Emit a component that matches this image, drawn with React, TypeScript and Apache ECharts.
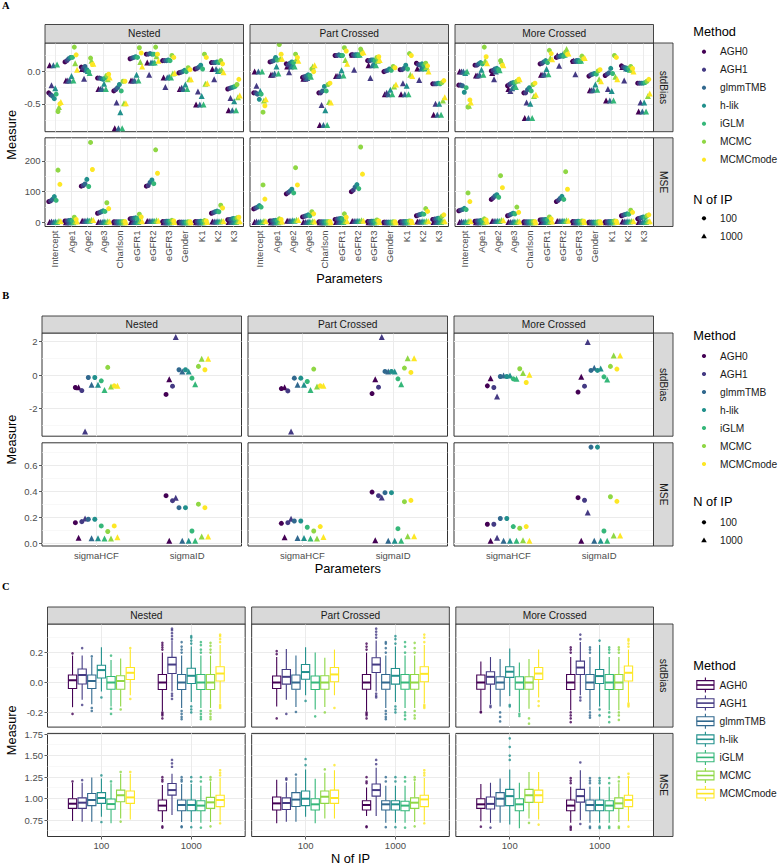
import React, { useEffect, useRef } from 'react';
import * as echarts from 'echarts';

// ---------------- categories / labels ----------------
const METHODS = ['AGH0', 'AGH1', 'glmmTMB', 'h-lik', 'iGLM', 'MCMC', 'MCMCmode'];
const COLORS = ['#440154', '#443A83', '#31688E', '#21908C', '#35B779', '#8FD744', '#FDE725'];
const STRUCTURES = ['Nested', 'Part Crossed', 'More Crossed'];
const MEASURES = ['stdBias', 'MSE'];
const N_OF_IP = ['100', '1000'];
const PARAMS_A = ['Intercept', 'Age1', 'Age2', 'Age3', 'Charlson', 'eGFR1', 'eGFR2', 'eGFR3', 'Gender', 'K1', 'K2', 'K3'];
const PARAMS_B = ['sigmaHCF', 'sigmaID'];

// ---------------- Panel A : [parameter][method] ----------------
const A_BIAS_NESTED_100 = [
  [-0.33, -0.36, -0.38, -0.42, -0.35, -0.62, -0.5],
  [0.15, 0.17, 0.2, 0.22, 0.22, 0.38, 0.26],
  [0.07, 0.05, 0.08, 0.03, 0.0, 0.21, 0.11],
  [-0.1, -0.1, -0.11, -0.12, -0.1, -0.06, -0.04],
  [-0.3, -0.28, -0.25, -0.2, -0.3, -0.15, -0.15],
  [0.2, 0.21, 0.22, 0.23, 0.22, 0.37, 0.29],
  [0.27, 0.27, 0.28, 0.27, 0.27, 0.38, 0.27],
  [0.17, 0.17, 0.17, 0.18, 0.17, 0.25, 0.22],
  [-0.02, -0.01, 0.0, 0.02, 0.0, 0.06, 0.03],
  [0.04, 0.05, 0.07, 0.1, 0.04, 0.27, 0.22],
  [0.14, 0.14, 0.14, 0.15, 0.14, 0.17, 0.12],
  [-0.27, -0.26, -0.25, -0.24, -0.23, -0.2, -0.12],
];
const A_BIAS_NESTED_1000 = [
  [0.1, -0.21, 0.1, -0.26, 0.11, -0.55, -0.47],
  [-0.14, -0.14, -0.14, -0.07, -0.14, 0.13, 0.03],
  [0.04, -0.11, 0.03, 0.01, -0.02, 0.17, 0.12],
  [-0.27, -0.27, -0.27, -0.19, -0.27, -0.12, -0.09],
  [-0.88, -0.48, -0.88, -0.63, -0.88, -0.49, -0.49],
  [-0.14, -0.14, -0.14, -0.05, -0.14, 0.15, 0.08],
  [0.14, -0.05, 0.14, 0.14, 0.14, 0.24, 0.17],
  [-0.09, -0.24, -0.09, -0.08, -0.09, -0.03, -0.02],
  [-0.27, -0.25, -0.27, -0.2, -0.27, -0.12, -0.12],
  [-0.51, -0.31, -0.51, -0.38, -0.51, -0.19, -0.18],
  [0.04, -0.12, 0.04, 0.01, 0.02, 0.03, -0.01],
  [-0.6, -0.41, -0.6, -0.46, -0.6, -0.4, -0.37],
];
const A_BIAS_PART_100 = [
  [-0.33, -0.33, -0.35, -0.43, -0.35, -0.63, -0.53],
  [0.15, 0.16, 0.17, 0.22, 0.18, 0.42, 0.27],
  [0.12, 0.1, 0.13, 0.15, 0.14, 0.27, 0.22],
  [-0.09, -0.08, -0.07, -0.05, -0.06, 0.04, 0.0],
  [-0.33, -0.33, -0.3, -0.23, -0.3, -0.2, -0.18],
  [0.25, 0.25, 0.26, 0.25, 0.25, 0.37, 0.32],
  [0.26, 0.26, 0.26, 0.26, 0.26, 0.35, 0.28],
  [0.17, 0.17, 0.18, 0.18, 0.17, 0.22, 0.23],
  [0.0, 0.01, 0.02, 0.04, 0.02, 0.08, 0.06],
  [0.03, 0.03, 0.05, 0.1, 0.04, 0.28, 0.25],
  [0.13, 0.11, 0.1, 0.12, 0.1, 0.13, 0.09],
  [-0.19, -0.19, -0.19, -0.18, -0.19, -0.17, -0.14],
];
const A_BIAS_PART_1000 = [
  [0.0, -0.22, 0.0, -0.3, 0.0, -0.45, -0.43],
  [-0.05, -0.05, -0.03, 0.08, -0.03, 0.2, 0.2],
  [0.08, -0.01, 0.08, 0.1, 0.08, 0.2, 0.17],
  [-0.11, -0.11, -0.1, -0.06, -0.08, 0.08, 0.1],
  [-0.83, -0.52, -0.83, -0.6, -0.83, -0.47, -0.48],
  [-0.07, -0.07, -0.06, 0.02, -0.06, 0.18, 0.12],
  [0.26, 0.03, 0.26, 0.26, 0.26, 0.34, 0.3],
  [0.1, -0.1, 0.1, 0.12, 0.1, 0.17, 0.18],
  [-0.35, -0.33, -0.35, -0.28, -0.35, -0.23, -0.2],
  [-0.35, -0.18, -0.35, -0.22, -0.35, -0.05, -0.07],
  [0.05, -0.13, 0.05, 0.06, 0.05, 0.07, 0.0],
  [-0.67, -0.5, -0.67, -0.5, -0.67, -0.45, -0.4],
];
const A_BIAS_MORE_100 = [
  [-0.21, -0.21, -0.22, -0.32, -0.25, -0.55, -0.44],
  [0.1, 0.1, 0.12, 0.14, 0.12, 0.38, 0.23],
  [0.01, 0.02, 0.04, 0.05, 0.03, 0.17, 0.1],
  [-0.22, -0.2, -0.18, -0.17, -0.17, -0.15, -0.12],
  [-0.33, -0.33, -0.28, -0.25, -0.3, -0.2, -0.18],
  [0.12, 0.13, 0.15, 0.17, 0.14, 0.33, 0.28],
  [0.22, 0.23, 0.24, 0.25, 0.24, 0.3, 0.27],
  [0.16, 0.16, 0.17, 0.17, 0.16, 0.24, 0.2],
  [-0.07, -0.05, -0.04, -0.03, -0.04, 0.01, 0.03],
  [-0.06, -0.04, -0.02, 0.05, -0.03, 0.25, 0.22],
  [0.09, 0.07, 0.06, 0.05, 0.05, 0.08, 0.05],
  [-0.18, -0.18, -0.18, -0.18, -0.17, -0.15, -0.12],
];
const A_BIAS_MORE_1000 = [
  [0.0, 0.0, 0.0, -0.02, 0.0, -0.53, -0.48],
  [-0.06, -0.06, -0.05, 0.03, -0.05, 0.17, 0.13],
  [-0.02, -0.12, 0.0, 0.03, 0.02, 0.16, 0.1],
  [-0.27, -0.3, -0.26, -0.22, -0.24, -0.14, -0.12],
  [-0.72, -0.48, -0.72, -0.5, -0.72, -0.38, -0.36],
  [-0.05, -0.05, -0.04, 0.04, -0.04, 0.21, 0.19],
  [0.25, 0.09, 0.25, 0.27, 0.26, 0.35, 0.28],
  [0.17, -0.04, 0.17, 0.17, 0.17, 0.22, 0.21],
  [-0.29, -0.29, -0.28, -0.2, -0.28, -0.12, -0.15],
  [-0.45, -0.27, -0.45, -0.3, -0.45, -0.08, -0.12],
  [0.07, -0.14, 0.05, 0.04, 0.03, 0.03, 0.0],
  [-0.62, -0.48, -0.62, -0.48, -0.62, -0.38, -0.34],
];
const A_MSE_NESTED_100 = [
  [68, 70, 75, 84, 72, 170, 124],
  [5, 5, 6, 7, 6, 17, 10],
  [118, 120, 125, 140, 117, 260, 172],
  [30, 32, 35, 38, 36, 64, 45],
  [2, 2, 2, 2, 2, 3, 3],
  [12, 13, 14, 15, 13, 27, 18],
  [118, 120, 130, 138, 126, 236, 160],
  [3, 3, 4, 4, 4, 7, 5],
  [1, 1, 1, 1, 1, 2, 2],
  [3, 3, 3, 4, 3, 6, 5],
  [30, 32, 35, 37, 35, 56, 47],
  [9, 10, 11, 13, 12, 15, 17],
];
const A_MSE_NESTED_1000 = [
  [2, 3, 2, 3, 2, 5, 4],
  [1, 1, 1, 2, 1, 4, 3],
  [6, 6, 6, 7, 6, 9, 8],
  [2, 2, 2, 3, 2, 4, 3],
  [1, 1, 1, 1, 1, 1, 1],
  [2, 2, 2, 3, 2, 5, 4],
  [5, 5, 5, 6, 5, 7, 6],
  [1, 1, 1, 1, 1, 2, 2],
  [0.5, 0.5, 0.5, 0.5, 0.5, 1, 1],
  [1, 1, 1, 1, 1, 2, 2],
  [3, 3, 3, 4, 3, 5, 4],
  [2, 2, 2, 3, 2, 4, 4],
];
const A_MSE_PART_100 = [
  [44, 47, 50, 55, 50, 122, 76],
  [5, 5, 6, 7, 6, 12, 10],
  [93, 97, 102, 108, 96, 178, 122],
  [18, 20, 22, 25, 22, 35, 28],
  [2, 2, 2, 2, 2, 3, 3],
  [10, 11, 12, 13, 12, 28, 17],
  [100, 105, 115, 123, 110, 245, 157],
  [3, 3, 4, 4, 4, 8, 5],
  [1, 1, 1, 1, 1, 2, 2],
  [2, 2, 3, 3, 3, 5, 4],
  [22, 24, 26, 28, 27, 45, 36],
  [10, 11, 12, 14, 13, 20, 25],
];
const A_MSE_PART_1000 = [
  [2, 3, 2, 3, 2, 5, 4],
  [1, 1, 1, 2, 1, 3, 3],
  [6, 6, 6, 7, 6, 9, 8],
  [2, 2, 2, 3, 2, 4, 3],
  [1, 1, 1, 1, 1, 1, 1],
  [2, 2, 2, 3, 2, 5, 4],
  [5, 5, 5, 6, 5, 7, 6],
  [1, 1, 1, 1, 1, 2, 2],
  [0.5, 0.5, 0.5, 0.5, 0.5, 1, 1],
  [1, 1, 1, 1, 1, 2, 2],
  [3, 3, 3, 4, 3, 5, 4],
  [2, 2, 2, 3, 2, 4, 4],
];
const A_MSE_MORE_100 = [
  [38, 40, 42, 46, 42, 96, 68],
  [4, 5, 5, 6, 5, 12, 8],
  [75, 80, 86, 90, 82, 152, 113],
  [22, 24, 27, 30, 28, 50, 33],
  [2, 2, 2, 2, 2, 3, 3],
  [8, 9, 9, 10, 9, 18, 12],
  [68, 72, 78, 85, 75, 165, 108],
  [3, 3, 3, 4, 3, 5, 4],
  [1, 1, 1, 1, 1, 2, 2],
  [2, 2, 3, 3, 3, 5, 4],
  [22, 24, 26, 28, 27, 40, 33],
  [12, 14, 16, 18, 16, 22, 25],
];
const A_MSE_MORE_1000 = [
  [2, 3, 2, 3, 2, 5, 4],
  [1, 1, 1, 2, 1, 3, 3],
  [5, 5, 5, 6, 5, 8, 7],
  [2, 2, 2, 3, 2, 4, 3],
  [1, 1, 1, 1, 1, 1, 1],
  [2, 2, 2, 3, 2, 4, 3],
  [5, 5, 5, 6, 5, 7, 6],
  [1, 1, 1, 1, 1, 2, 2],
  [0.5, 0.5, 0.5, 0.5, 0.5, 1, 1],
  [1, 1, 1, 1, 1, 2, 2],
  [3, 3, 3, 4, 3, 5, 4],
  [2, 2, 2, 3, 2, 4, 4],
];

// ---------------- Panel B : [parameter][method] ----------------
const B_BIAS_NESTED_100 = [[-0.74, -0.92, -0.14, -0.14, -0.34, 0.46, -0.64], [-1.15, -0.66, 0.32, 0.32, -0.18, 0.52, 0.32]];
const B_BIAS_NESTED_1000 = [[-0.72, -3.36, -0.58, -0.58, -0.88, -0.68, -0.64], [-0.24, 2.27, 0.22, 0.22, -0.54, 0.98, 0.98]];
const B_MSE_NESTED_100 = [[0.158, 0.166, 0.184, 0.184, 0.133, 0.09, 0.133], [0.365, 0.327, 0.273, 0.273, 0.094, 0.3, 0.273]];
const B_MSE_NESTED_1000 = [[0.043, 0.19, 0.038, 0.038, 0.036, 0.036, 0.046], [0.02, 0.35, 0.02, 0.02, 0.02, 0.051, 0.051]];
const B_BIAS_PART_100 = [[-0.8, -0.94, -0.18, -0.18, -0.38, 0.36, -0.64], [-1.1, -0.72, 0.22, 0.22, -0.22, 0.42, 0.16]];
const B_BIAS_PART_1000 = [[-0.72, -3.36, -0.58, -0.58, -0.88, -0.68, -0.64], [-0.24, 2.27, 0.22, 0.22, -0.54, 1.0, 1.0]];
const B_MSE_PART_100 = [[0.153, 0.158, 0.171, 0.171, 0.123, 0.094, 0.128], [0.393, 0.365, 0.388, 0.388, 0.112, 0.319, 0.329]];
const B_MSE_PART_1000 = [[0.046, 0.189, 0.041, 0.041, 0.036, 0.036, 0.049], [0.023, 0.352, 0.02, 0.02, 0.02, 0.054, 0.054]];
const B_BIAS_MORE_100 = [[-0.64, -0.74, -0.08, -0.08, -0.22, 0.38, -0.44], [-1.01, -0.66, 0.28, 0.28, -0.1, 0.52, 0.36]];
const B_BIAS_MORE_1000 = [[-0.18, -1.27, -0.02, -0.02, -0.22, 0.12, 0.02], [-0.1, 1.97, 0.44, 0.4, -0.26, 1.17, 1.17]];
const B_MSE_MORE_100 = [[0.146, 0.146, 0.19, 0.19, 0.128, 0.115, 0.128], [0.35, 0.33, 0.738, 0.738, 0.094, 0.357, 0.322]];
const B_MSE_MORE_1000 = [[0.02, 0.043, 0.02, 0.02, 0.02, 0.023, 0.02], [0.02, 0.237, 0.02, 0.02, 0.02, 0.059, 0.059]];

// ---------------- Panel C : box stats per method [lower whisker, Q1, median, Q3, upper whisker] ----------------
const C_BIAS_NESTED_100 = [
  [-0.165, -0.04, 0.015, 0.05, 0.18], [-0.115, -0.01, 0.05, 0.09, 0.18], [-0.145, -0.04, 0.01, 0.05, 0.165],
  [-0.06, 0.03, 0.083, 0.115, 0.235], [-0.16, -0.045, 0.0, 0.04, 0.15], [-0.16, -0.045, 0.01, 0.045, 0.16],
  [-0.085, 0.02, 0.065, 0.1, 0.22],
];
const C_BIAS_NESTED_100_OUT = [[0.195, -0.21], [0.23, -0.15], [0.175, -0.17, -0.19], [-0.1], [0.18, -0.175, -0.21], [-0.18], [0.23, -0.11]];
const C_BIAS_NESTED_1000 = [
  [-0.19, -0.047, 0.0, 0.054, 0.2], [-0.06, 0.06, 0.12, 0.168, 0.28], [-0.17, -0.047, 0.0, 0.054, 0.18],
  [-0.13, -0.007, 0.045, 0.095, 0.24], [-0.17, -0.047, 0.0, 0.054, 0.18], [-0.17, -0.047, 0.0, 0.054, 0.18],
  [-0.14, 0.01, 0.06, 0.105, 0.25],
];
const C_BIAS_NESTED_1000_OUT = [
  [0.22, 0.235, 0.25, 0.265, -0.2, -0.21, -0.22, -0.24], [0.29, 0.31, 0.33, 0.35, 0.36, -0.075, -0.09, -0.11],
  [0.2, 0.22, 0.24, 0.27, -0.19, -0.21, -0.23, -0.245], [0.26, 0.28, 0.3, 0.31, -0.16, -0.18, -0.2],
  [0.2, 0.22, 0.25, 0.27, -0.19, -0.21, -0.23, -0.245], [0.2, 0.22, 0.245, 0.265, -0.19, -0.21, -0.23, -0.245],
  [0.27, 0.29, 0.31, 0.32, -0.15, -0.16, -0.17],
];
const C_BIAS_PART_100 = [
  [-0.16, -0.04, 0.0, 0.043, 0.17], [-0.115, -0.011, 0.038, 0.087, 0.224], [-0.163, -0.045, 0.0, 0.05, 0.18],
  [-0.085, 0.022, 0.07, 0.12, 0.235], [-0.18, -0.047, 0.0, 0.043, 0.2], [-0.163, -0.045, 0.0, 0.045, 0.165],
  [-0.085, 0.005, 0.054, 0.1, 0.22],
];
const C_BIAS_PART_100_OUT = [[0.19, 0.21, -0.24], [-0.21], [-0.197], [-0.123], [-0.226], [-0.2], [-0.17]];
const C_BIAS_PART_1000 = [
  [-0.19, -0.045, 0.0, 0.054, 0.2], [-0.06, 0.067, 0.12, 0.165, 0.28], [-0.17, -0.045, 0.0, 0.054, 0.18],
  [-0.13, -0.011, 0.045, 0.094, 0.24], [-0.17, -0.045, 0.0, 0.054, 0.18], [-0.17, -0.045, 0.0, 0.054, 0.18],
  [-0.14, 0.005, 0.058, 0.105, 0.25],
];
const C_BIAS_PART_1000_OUT = [
  [0.22, 0.24, 0.26, -0.2, -0.21, -0.22, -0.24], [0.3, 0.32, 0.34, 0.36, -0.075, -0.09, -0.1],
  [0.2, 0.23, 0.26, 0.27, -0.19, -0.21, -0.23, -0.245], [0.26, 0.29, 0.31, -0.16, -0.18, -0.2],
  [0.2, 0.24, 0.27, -0.2, -0.22, -0.245], [0.2, 0.23, 0.265, -0.19, -0.22, -0.24],
  [0.27, 0.3, 0.32, -0.15, -0.16, -0.17],
];
const C_BIAS_MORE_100 = [
  [-0.186, -0.045, 0.0, 0.05, 0.14], [-0.145, -0.011, 0.038, 0.072, 0.17], [-0.16, -0.045, 0.0, 0.038, 0.157],
  [-0.09, 0.034, 0.072, 0.105, 0.228], [-0.197, -0.045, 0.0, 0.038, 0.134], [-0.175, -0.045, 0.0, 0.038, 0.157],
  [-0.1, 0.02, 0.06, 0.1, 0.22],
];
const C_BIAS_MORE_100_OUT = [[-0.195, -0.2], [-0.155, -0.165], [-0.2, -0.23, -0.26], [-0.15, -0.16], [-0.21, -0.224], [-0.24, -0.275], [-0.125, -0.156]];
const C_BIAS_MORE_1000 = [
  [-0.186, -0.047, 0.0, 0.054, 0.17], [-0.085, 0.054, 0.1, 0.143, 0.27], [-0.186, -0.047, 0.0, 0.054, 0.17],
  [-0.16, -0.007, 0.043, 0.087, 0.25], [-0.186, -0.047, 0.0, 0.054, 0.17], [-0.186, -0.047, 0.0, 0.054, 0.17],
  [-0.134, 0.01, 0.065, 0.11, 0.22],
];
const C_BIAS_MORE_1000_OUT = [
  [0.2, 0.22, 0.235, -0.2, -0.22, -0.24, -0.265], [0.29, 0.32, -0.1, -0.12],
  [0.2, 0.22, 0.235, -0.2, -0.22, -0.235], [0.28, -0.18, -0.22],
  [0.2, 0.22, 0.235, -0.2, -0.23, -0.265], [0.2, 0.22, 0.235, -0.2, -0.22, -0.25],
  [0.24, 0.26, 0.28, 0.29, -0.14, -0.15, -0.16],
];
const C_MSE_NESTED_100 = [
  [0.742, 0.888, 0.942, 1.0, 1.185], [0.734, 0.888, 0.954, 1.01, 1.185], [0.734, 0.92, 0.985, 1.06, 1.247],
  [0.79, 0.946, 1.008, 1.07, 1.235], [0.715, 0.877, 0.938, 0.996, 1.18], [0.77, 0.965, 1.04, 1.1, 1.29],
  [0.76, 0.946, 1.015, 1.09, 1.29],
];
const C_MSE_NESTED_100_OUT = [[1.2], [1.215], [], [1.27, 0.73], [1.2], [1.31, 0.735], [1.31]];
const C_MSE_NESTED_1000 = [
  [0.73, 0.861, 0.92, 0.985, 1.16], [0.81, 1.042, 1.1, 1.177, 1.29], [0.73, 0.861, 0.927, 0.985, 1.17],
  [0.73, 0.861, 0.927, 0.985, 1.17], [0.72, 0.861, 0.92, 0.977, 1.15], [0.73, 0.888, 0.958, 1.015, 1.2],
  [0.74, 0.908, 0.985, 1.04, 1.24],
];
const C_MSE_NESTED_1000_OUT = [
  [1.2, 1.22, 1.25, 0.68, 0.665], [1.37, 1.41, 1.45], [1.2, 1.22, 1.25, 0.68, 0.67], [1.2, 1.25, 0.67],
  [1.2, 1.25, 0.665], [1.22, 1.25, 0.68], [1.27, 1.3, 1.33, 0.715],
];
const C_MSE_PART_100 = [
  [0.715, 0.87, 0.946, 1.02, 1.22], [0.734, 0.875, 0.95, 1.01, 1.19], [0.734, 0.91, 0.99, 1.07, 1.25],
  [0.79, 0.92, 1.0, 1.09, 1.34], [0.715, 0.87, 0.935, 1.0, 1.23], [0.77, 0.946, 1.023, 1.09, 1.3],
  [0.77, 0.946, 1.008, 1.1, 1.33],
];
const C_MSE_PART_100_OUT = [[], [1.22, 1.235], [1.28], [1.39, 1.46], [], [1.34], [1.39]];
const C_MSE_PART_1000 = [
  [0.8, 0.87, 0.927, 0.977, 1.13], [0.8, 1.03, 1.1, 1.17, 1.36], [0.72, 0.87, 0.935, 0.977, 1.15],
  [0.72, 0.87, 0.935, 0.977, 1.15], [0.72, 0.861, 0.92, 0.97, 1.15], [0.73, 0.888, 0.954, 1.01, 1.2],
  [0.74, 0.908, 0.992, 1.04, 1.24],
];
const C_MSE_PART_1000_OUT = [
  [1.18, 1.2, 1.25, 0.68, 0.67], [1.4, 1.45], [1.2, 1.25, 0.67], [1.2, 1.25, 0.67],
  [1.2, 1.25, 0.665], [1.22, 1.25, 0.68], [1.27, 1.3, 1.33, 0.715],
];
const C_MSE_MORE_100 = [
  [0.74, 0.888, 0.935, 1.0, 1.17], [0.72, 0.88, 0.94, 1.02, 1.185], [0.72, 0.915, 1.0, 1.07, 1.235],
  [0.7, 0.92, 1.03, 1.108, 1.34], [0.657, 0.861, 0.935, 1.0, 1.185], [0.77, 0.958, 1.04, 1.108, 1.31],
  [0.76, 0.958, 1.04, 1.1, 1.31],
];
const C_MSE_MORE_100_OUT = [[0.676], [0.665], [], [1.45, 1.5, 1.6, 1.7], [], [0.72], [0.7]];
const C_MSE_MORE_1000 = [
  [0.72, 0.861, 0.92, 0.985, 1.14], [0.75, 0.96, 1.03, 1.108, 1.33], [0.72, 0.861, 0.927, 0.985, 1.14],
  [0.72, 0.861, 0.927, 0.985, 1.14], [0.72, 0.861, 0.92, 0.977, 1.14], [0.73, 0.888, 0.946, 1.01, 1.18],
  [0.74, 0.908, 0.985, 1.04, 1.24],
];
const C_MSE_MORE_1000_OUT = [
  [1.18, 1.21, 1.24, 0.676, 0.66, 0.64], [1.42, 0.707], [1.18, 1.21, 1.24, 0.676, 0.66], [1.18, 1.21, 1.24, 0.676, 0.66],
  [1.18, 1.24, 0.676, 0.66], [1.2, 1.25, 0.676, 0.66], [1.25, 1.29, 0.676],
];

// ---------------- assemble lookups: [structure][measure][N] ----------------
const A_DATA = [
  [[A_BIAS_NESTED_100, A_BIAS_NESTED_1000], [A_MSE_NESTED_100, A_MSE_NESTED_1000]],
  [[A_BIAS_PART_100, A_BIAS_PART_1000], [A_MSE_PART_100, A_MSE_PART_1000]],
  [[A_BIAS_MORE_100, A_BIAS_MORE_1000], [A_MSE_MORE_100, A_MSE_MORE_1000]],
];
const B_DATA = [
  [[B_BIAS_NESTED_100, B_BIAS_NESTED_1000], [B_MSE_NESTED_100, B_MSE_NESTED_1000]],
  [[B_BIAS_PART_100, B_BIAS_PART_1000], [B_MSE_PART_100, B_MSE_PART_1000]],
  [[B_BIAS_MORE_100, B_BIAS_MORE_1000], [B_MSE_MORE_100, B_MSE_MORE_1000]],
];
const C_BOX = [
  [[C_BIAS_NESTED_100, C_BIAS_NESTED_1000], [C_MSE_NESTED_100, C_MSE_NESTED_1000]],
  [[C_BIAS_PART_100, C_BIAS_PART_1000], [C_MSE_PART_100, C_MSE_PART_1000]],
  [[C_BIAS_MORE_100, C_BIAS_MORE_1000], [C_MSE_MORE_100, C_MSE_MORE_1000]],
];
const C_OUT = [
  [[C_BIAS_NESTED_100_OUT, C_BIAS_NESTED_1000_OUT], [C_MSE_NESTED_100_OUT, C_MSE_NESTED_1000_OUT]],
  [[C_BIAS_PART_100_OUT, C_BIAS_PART_1000_OUT], [C_MSE_PART_100_OUT, C_MSE_PART_1000_OUT]],
  [[C_BIAS_MORE_100_OUT, C_BIAS_MORE_1000_OUT], [C_MSE_MORE_100_OUT, C_MSE_MORE_1000_OUT]],
];

// ---------------- styling / layout ----------------
const FONT = '"Liberation Sans", Arial, Helvetica, sans-serif';
const RIGHT = 653.5;
const GAP = 6.5;
const STRIP_W = 19.5;
const TICK_FS = 9.5;
const STRIP_FS = 10.2;
const TITLE_FS = 12.8;
const LEG_FS = 10.2;
const AXIS_TXT = '#4d4d4d';
const BORDER = '#333333';
const MAJ = { color: '#ebebeb', width: 1, type: 'solid' };
const MIN = { color: '#f3f3f3', width: 0.6, type: 'solid' };

const PANELS = [
  {
    letter: 'A', left: 45, stripTop: 24.5, rowTop: [43, 137.8], rowH: 88.7, letterY: 5.5,
    xTitle: 'Parameters', xTitleY: 278, xMin: 0.4, xMax: 12.6, xTicks: PARAMS_A.map((_, i) => i + 1),
    xFmt: (v: number) => PARAMS_A[Math.round(v) - 1] || '', rotate: 90,
    yRange: [[-0.933, 0.444], [-13, 275]], yMajor: [[-0.5, 0], [0, 100, 200]],
    yMinor: [[-0.75, -0.25, 0.25], [50, 150, 250]],
    yFmt: [(v: number) => v.toFixed(1), (v: number) => String(Math.round(v))],
    kind: 'points', dodge: 0.8,
  },
  {
    letter: 'B', left: 42, stripTop: 316, rowTop: [333, 442.8], rowH: 103.2, letterY: 295,
    xTitle: 'Parameters', xTitleY: 568, xMin: 0.4, xMax: 2.6, xTicks: [1, 2],
    xFmt: (v: number) => PARAMS_B[Math.round(v) - 1] || '', rotate: 0,
    yRange: [[-3.64, 2.51], [-0.021, 0.771]], yMajor: [[-2, 0, 2], [0, 0.2, 0.4, 0.6]],
    yMinor: [[-3, -1, 1], [0.1, 0.3, 0.5, 0.7]],
    yFmt: [(v: number) => String(Math.round(v)), (v: number) => v.toFixed(1)],
    kind: 'points', dodge: 0.5,
  },
  {
    letter: 'C', left: 47.5, stripTop: 607, rowTop: [624, 733.4], rowH: 103.1, letterY: 586.5,
    xTitle: 'N of IP', xTitleY: 858, xMin: 0.4, xMax: 2.6, xTicks: [1, 2],
    xFmt: (v: number) => N_OF_IP[Math.round(v) - 1] || '', rotate: 0,
    yRange: [[-0.298, 0.391], [0.562, 1.757]], yMajor: [[-0.2, 0, 0.2], [0.75, 1, 1.25, 1.5, 1.75]],
    yMinor: [[-0.1, 0.1, 0.3], [0.625, 0.875, 1.125, 1.375, 1.625]],
    yFmt: [(v: number) => v.toFixed(1), (v: number) => v.toFixed(2)],
    kind: 'box', dodge: 0.75,
  },
];

const LEGENDS = [
  { type: 'points', titleY: 31.7, itemY0: 51.7, step: 18, nTitleY: 199, nItemY0: 218.3 },
  { type: 'points', titleY: 335, itemY0: 356, step: 18, nTitleY: 501.7, nItemY0: 522.3 },
  { type: 'box', titleY: 665, itemY0: 685, step: 18.1 },
];

function gridLines(majY: number[], minY: number[], majX: number[]) {
  return {
    silent: true,
    symbol: ['none', 'none'],
    z: 1,
    animation: false,
    label: { show: false },
    emphasis: { disabled: true },
    data: [
      ...minY.map((v) => ({ yAxis: v, lineStyle: MIN })),
      ...majY.map((v) => ({ yAxis: v, lineStyle: MAJ })),
      ...majX.map((v) => ({ xAxis: v, lineStyle: MAJ })),
    ],
  };
}

function txt(x: number, y: number, text: string, size: number, opts: any = {}) {
  return {
    type: 'text',
    x,
    y,
    rotation: opts.rotation || 0,
    z: 120,
    silent: true,
    style: {
      text,
      font: `${opts.weight || 'normal'} ${size}px ${opts.family || FONT}`,
      fill: opts.color || '#1a1a1a',
      textAlign: opts.align || 'center',
      align: opts.align || 'center',
      textVerticalAlign: 'middle',
      verticalAlign: 'middle',
    },
  };
}

function buildOption() {
  const grid: any[] = [];
  const xAxis: any[] = [];
  const yAxis: any[] = [];
  const series: any[] = [];
  const graphic: any[] = [];

  PANELS.forEach((P, pi) => {
    const W = (RIGHT - P.left - 2 * GAP) / 3;
    const stripH = P.rowTop[0] - P.stripTop;
    graphic.push(txt(5.8, P.letterY, P.letter, 10.5, { weight: 'bold', family: '"Liberation Serif", "Times New Roman", serif', color: '#000' }));
    graphic.push(txt((P.left + RIGHT) / 2, P.xTitleY, P.xTitle, TITLE_FS, { color: '#000' }));
    graphic.push(txt(11.7, (P.rowTop[0] + P.rowTop[1] + P.rowH) / 2, 'Measure', TITLE_FS, { color: '#000', rotation: Math.PI / 2 }));

    for (let c = 0; c < 3; c++) {
      const gx = P.left + c * (W + GAP);
      graphic.push({
        type: 'rect', z: 110, silent: true,
        shape: { x: gx, y: P.stripTop, width: W, height: stripH },
        style: { fill: '#d9d9d9', stroke: BORDER, lineWidth: 0.9 },
      });
      graphic.push(txt(gx + W / 2, P.stripTop + stripH / 2, STRUCTURES[c], STRIP_FS));
    }
    for (let r = 0; r < 2; r++) {
      graphic.push({
        type: 'rect', z: 110, silent: true,
        shape: { x: RIGHT, y: P.rowTop[r], width: STRIP_W, height: P.rowH },
        style: { fill: '#d9d9d9', stroke: BORDER, lineWidth: 0.9 },
      });
      graphic.push(txt(RIGHT + STRIP_W / 2, P.rowTop[r] + P.rowH / 2, MEASURES[r], STRIP_FS, { rotation: -Math.PI / 2 }));

      for (let c = 0; c < 3; c++) {
        const gi = grid.length;
        const gx = P.left + c * (W + GAP);
        grid.push({
          left: gx, top: P.rowTop[r], width: W, height: P.rowH,
          show: true, borderColor: BORDER, borderWidth: 1, backgroundColor: 'rgba(0,0,0,0)',
          containLabel: false, outerBoundsMode: 'none',
        });
        const showX = r === 1;
        const showY = c === 0;
        xAxis.push({
          type: 'value', gridIndex: gi, min: P.xMin, max: P.xMax,
          axisLine: { show: false },
          splitLine: { show: false },
          axisTick: { show: showX, length: 3, customValues: P.xTicks, lineStyle: { color: BORDER, width: 0.8 } },
          axisLabel: {
            show: showX, customValues: P.xTicks, formatter: P.xFmt, rotate: P.rotate,
            color: AXIS_TXT, fontSize: TICK_FS, fontFamily: FONT, margin: 4,
          },
        });
        yAxis.push({
          type: 'value', gridIndex: gi, min: P.yRange[r][0], max: P.yRange[r][1],
          axisLine: { show: false },
          splitLine: { show: false },
          axisTick: { show: showY, length: 3, customValues: P.yMajor[r], lineStyle: { color: BORDER, width: 0.8 } },
          axisLabel: {
            show: showY, customValues: P.yMajor[r], formatter: P.yFmt[r],
            color: AXIS_TXT, fontSize: TICK_FS, fontFamily: FONT, margin: 4.5,
          },
        });

        const lines = gridLines(P.yMajor[r], P.yMinor[r], P.xTicks);

        if (P.kind === 'points') {
          const src = pi === 0 ? A_DATA[c][r] : B_DATA[c][r];
          const items: any[] = [];
          const step = P.dodge / 14;
          const nParams = src[0].length;
          for (let k = 0; k < nParams; k++) {
            for (let m = 0; m < METHODS.length; m++) {
              for (let n = 0; n < 2; n++) {
                const j = m * 2 + n;
                const x = k + 1 - P.dodge / 2 + step / 2 + j * step;
                items.push({
                  value: [x, src[n][k][m]],
                  symbol: n === 0 ? 'circle' : 'triangle',
                  symbolSize: n === 0 ? 5 : 6,
                  itemStyle: { color: COLORS[m], opacity: 1 },
                });
              }
            }
          }
          series.push({
            type: 'scatter', xAxisIndex: gi, yAxisIndex: gi, z: 10, silent: true,
            data: items, markLine: lines,
          });
        } else {
          const boxes: any[] = [];
          const outs: any[] = [];
          const step = P.dodge / 7;
          for (let n = 0; n < 2; n++) {
            const stats = C_BOX[c][r][n];
            const ol = C_OUT[c][r][n];
            for (let m = 0; m < METHODS.length; m++) {
              const x = n + 1 - P.dodge / 2 + step / 2 + m * step;
              const s = stats[m];
              boxes.push([x, s[0], s[1], s[2], s[3], s[4], m]);
              ol[m].forEach((v: number) => outs.push({ value: [x, v], itemStyle: { color: COLORS[m] } }));
            }
          }
          const boxW = step * 0.86;
          series.push({
            type: 'custom', xAxisIndex: gi, yAxisIndex: gi, z: 8, silent: true,
            encode: { x: 0, y: [1, 2, 3, 4, 5] },
            data: boxes,
            renderItem: (params: any, api: any) => {
              const x = api.value(0);
              const col = COLORS[api.value(6)];
              const pLo = api.coord([x, api.value(1)]);
              const pQ1 = api.coord([x, api.value(2)]);
              const pMed = api.coord([x, api.value(3)]);
              const pQ3 = api.coord([x, api.value(4)]);
              const pHi = api.coord([x, api.value(5)]);
              const hw = api.size([boxW, 0])[0] / 2;
              const ls = { stroke: col, lineWidth: 1.1, fill: null };
              return {
                type: 'group',
                children: [
                  { type: 'line', shape: { x1: pLo[0], y1: pLo[1], x2: pQ1[0], y2: pQ1[1] }, style: ls },
                  { type: 'line', shape: { x1: pQ3[0], y1: pQ3[1], x2: pHi[0], y2: pHi[1] }, style: ls },
                  {
                    type: 'rect',
                    shape: { x: pQ3[0] - hw, y: pQ3[1], width: 2 * hw, height: pQ1[1] - pQ3[1] },
                    style: { fill: '#ffffff', stroke: col, lineWidth: 1.1 },
                  },
                  { type: 'line', shape: { x1: pMed[0] - hw, y1: pMed[1], x2: pMed[0] + hw, y2: pMed[1] }, style: { stroke: col, lineWidth: 2 } },
                ],
              };
            },
          });
          series.push({
            type: 'scatter', xAxisIndex: gi, yAxisIndex: gi, z: 9, silent: true,
            symbol: 'circle', symbolSize: 2.6, data: outs, markLine: lines,
          });
        }
      }
    }
  });

  // legends
  LEGENDS.forEach((L: any) => {
    const tx = 693.3;
    graphic.push(txt(tx, L.titleY, 'Method', TITLE_FS, { align: 'left', color: '#000' }));
    METHODS.forEach((name, m) => {
      const y = L.itemY0 + m * L.step;
      if (L.type === 'points') {
        graphic.push({ type: 'circle', z: 120, silent: true, shape: { cx: 704, cy: y, r: 2.1 }, style: { fill: COLORS[m] } });
        graphic.push(txt(720, y, name, LEG_FS, { align: 'left' }));
      } else {
        const cx = 705.4;
        const col = COLORS[m];
        graphic.push({ type: 'line', z: 120, silent: true, shape: { x1: cx, y1: y - 7.5, x2: cx, y2: y + 7.5 }, style: { stroke: col, lineWidth: 1.1 } });
        graphic.push({ type: 'rect', z: 121, silent: true, shape: { x: cx - 8.6, y: y - 4.4, width: 17.2, height: 8.8 }, style: { fill: '#ffffff', stroke: col, lineWidth: 1.1 } });
        graphic.push({ type: 'line', z: 122, silent: true, shape: { x1: cx - 8.6, y1: y, x2: cx + 8.6, y2: y }, style: { stroke: col, lineWidth: 1.6 } });
        graphic.push(txt(719.5, y, name, LEG_FS, { align: 'left' }));
      }
    });
    if (L.type === 'points') {
      graphic.push(txt(tx, L.nTitleY, 'N of IP', TITLE_FS, { align: 'left', color: '#000' }));
      N_OF_IP.forEach((name, n) => {
        const y = L.nItemY0 + n * L.step;
        if (n === 0) {
          graphic.push({ type: 'circle', z: 120, silent: true, shape: { cx: 704, cy: y, r: 2.1 }, style: { fill: '#000' } });
        } else {
          graphic.push({ type: 'polygon', z: 120, silent: true, shape: { points: [[704, y - 2.8], [701.2, y + 2], [706.8, y + 2]] }, style: { fill: '#000' } });
        }
        graphic.push(txt(720, y, name, LEG_FS, { align: 'left' }));
      });
    }
  });

  return {
    animation: false,
    backgroundColor: '#ffffff',
    textStyle: { fontFamily: FONT },
    grid, xAxis, yAxis, series, graphic,
  };
}

export default function App() {
  const ref = useRef<HTMLDivElement>(null);
  useEffect(() => {
    if (!ref.current) return;
    const chart = echarts.init(ref.current, null, { renderer: 'svg', width: 778, height: 864 });
    chart.setOption(buildOption() as any);
    return () => chart.dispose();
  }, []);
  return (
    <div
      ref={ref}
      style={{ position: 'fixed', left: 0, top: 0, width: 778, height: 864, background: '#ffffff' }}
    />
  );
}
